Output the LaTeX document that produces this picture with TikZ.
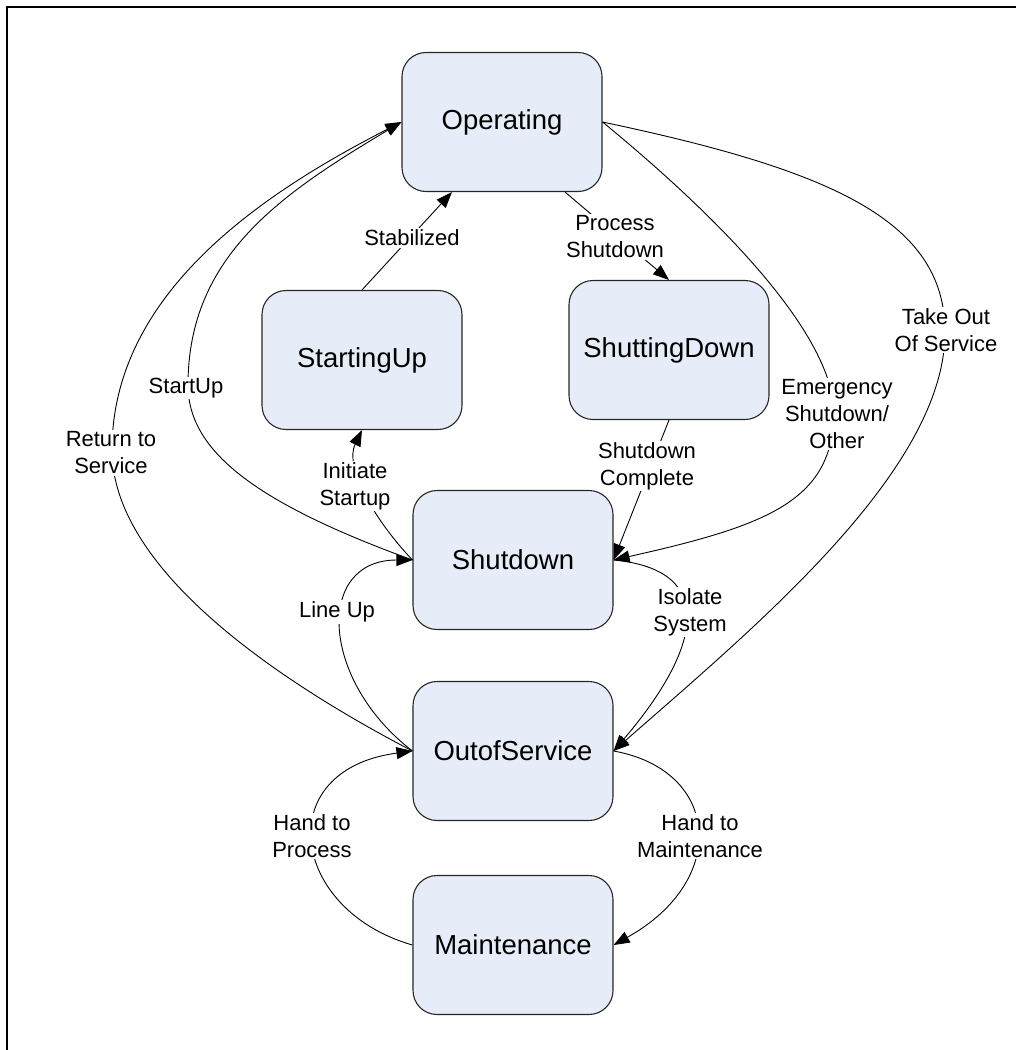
\documentclass[tikz,border=0pt]{standalone}
\usepackage{fontspec}
\setmainfont{Liberation Sans}
\usetikzlibrary{arrows.meta,calc}
\definecolor{statefill}{RGB}{230,236,248}
\tikzset{
  state/.style={draw=black!85, line width=1.1pt, fill=statefill, rounded corners=24pt,
    minimum width=200pt, minimum height=139pt, inner sep=0pt,
    font=\fontsize{27.5}{33}\selectfont},
  lbl/.style={fill=white, inner sep=1.5pt, align=center,
    font=\fontsize{22}{27}\selectfont},
  conn/.style={line width=0.9pt, -{Triangle[length=16pt,width=12pt]}},
  frame/.style={line width=2.5pt}
}
\begin{document}
\begin{tikzpicture}[x=1pt,y=-1pt]
\useasboundingbox (0,0) rectangle (1016,1050);
\draw[frame] (7,1052) -- (7,7) -- (1018,7);

\node[state] (Op)  at (502,122) {Operating};
\node[state] (SU)  at (362,360) {StartingUp};
\node[state] (SD)  at (669,350) {ShuttingDown};
\node[state] (Sh)  at (513,560) {Shutdown};
\node[state] (OoS) at (513,751) {OutofService};
\node[state] (Mt)  at (513,945) {Maintenance};

% connectors
\draw[conn] (SU.north) -- ($(Op.south)+(-50,0)$);
\draw[conn] ($(Op.south)+(63,0)$) -- (SD.north);
\draw[conn] (Sh.west) .. controls (370,515) and (345,465) .. (SU.south);
\draw[conn] (Sh.west) .. controls (253,502) and (188,450) .. (188,385)
   .. controls (188,255) and (283,193) .. (Op.west);
\draw[conn] (OoS.west) .. controls (280,682) and (112,570) .. (112,450)
   .. controls (112,290) and (269,190) .. (Op.west);
\draw[conn] (SD.south) -- (Sh.east);
\draw[conn] (Op.east) .. controls (717,216) and (830,330) .. (834,410)
   .. controls (834,500) and (770,525) .. (Sh.east);
\draw[conn] (Op.east) .. controls (830,170) and (945,220) .. (945,332)
   .. controls (945,470) and (756,626) .. (OoS.east);
\draw[conn] (Sh.east) .. controls (720,570) and (700,650) .. (OoS.east);
\draw[conn] (OoS.west) .. controls (320,680) and (315,560) .. (Sh.west);
\draw[conn] (Mt.west) .. controls (290,910) and (270,770) .. (OoS.west);
\draw[conn] (OoS.east) .. controls (720,770) and (730,880) .. (Mt.east);

% labels
\node[lbl] (lStab) at (412,238) {Stabilized};
\node[lbl] (lPS)   at (615,237) {Process\\Shutdown};
\node[lbl] (lIS)   at (355,486) {Initiate\\Startup};
\node[lbl] (lSU)   at (186,388) {StartUp};
\node[lbl] (lRS)   at (111,453) {Return to\\Service};
\node[lbl] (lSC)   at (647,466) {Shutdown\\Complete};
\node[lbl] (lES)   at (837,414) {Emergency\\Shutdown/\\Other};
\node[lbl] (lTO)   at (946,330) {Take Out\\Of Service};
\node[lbl] (lIso)  at (690,612) {Isolate\\System};
\node[lbl] (lLU)   at (337,612) {Line Up};
\node[lbl] (lHP)   at (312,836) {Hand to\\Process};
\node[lbl] (lHM)   at (700,836) {Hand to\\Maintenance};
\end{tikzpicture}
\end{document}
